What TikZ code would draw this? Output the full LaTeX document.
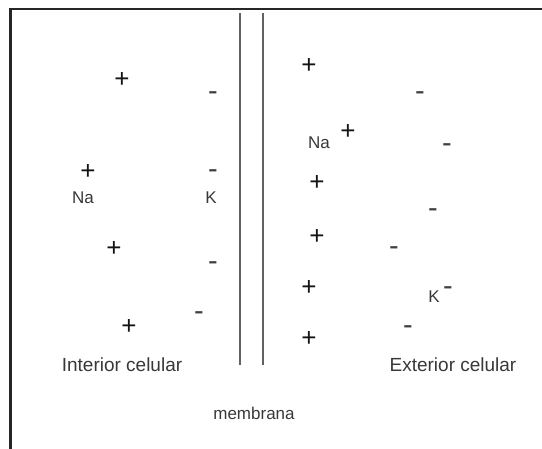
\documentclass[tikz,border=0pt]{standalone}
\usepackage{fontspec}
\setmainfont{Liberation Sans}
\begin{document}
\begin{tikzpicture}[x=1pt,y=-1pt,
  lbl/.style={font=\fontsize{19}{19}\selectfont, text=black!78, inner sep=0pt},
  ionlbl/.style={font=\fontsize{17}{17}\selectfont, text=black!78, inner sep=0pt},
  memlbl/.style={font=\fontsize{17}{17}\selectfont, text=black!78, inner sep=0pt},
  plussign/.style={font=\fontsize{26}{26}\selectfont, text=black!92, inner sep=0pt, yshift=-1.5pt},
  minussign/.style={font=\fontsize{29}{29}\selectfont, text=black!75, inner sep=0pt, yshift=-3.5pt},
  framepen/.style={line width=2.6pt, black!85},
  membpen/.style={line width=2.2pt, black!62}]
\useasboundingbox (0,0) rectangle (542,449);
% frame
\coordinate (fbl) at (10.5,449);
\coordinate (ftl) at (10.5,9);
\coordinate (ftr) at (542,9);
\draw[framepen] (fbl) -- (ftl) -- (ftr);
% membrane
\coordinate (m1t) at (239.6,13);
\coordinate (m1b) at (239.6,365);
\coordinate (m2t) at (262.8,13);
\coordinate (m2b) at (262.8,365);
\draw[membpen] (m1t) -- (m1b);
\draw[membpen] (m2t) -- (m2b);
% interior
\node[plussign] (ip1) at (122,78) {+};
\node[minussign] (in1) at (213,93) {-};
\node[plussign] (ip2) at (88,170) {+};
\node[minussign] (in2) at (213,171) {-};
\node[ionlbl] (na1) at (83,198) {Na};
\node[ionlbl] (k1) at (211,198) {K};
\node[plussign] (ip3) at (114,247) {+};
\node[minussign] (in3) at (213,263) {-};
\node[minussign] (in4) at (199,313) {-};
\node[plussign] (ip4) at (129,325) {+};
\node[lbl] (int) at (122,365) {Interior celular};
% exterior
\node[plussign] (ep1) at (309,64) {+};
\node[minussign] (en1) at (420,93) {-};
\node[ionlbl] (na2) at (319,143) {Na};
\node[plussign] (ep2) at (348,130) {+};
\node[minussign] (en2) at (447,145) {-};
\node[plussign] (ep3) at (317,181) {+};
\node[minussign] (en3) at (433,210) {-};
\node[plussign] (ep4) at (317,235) {+};
\node[minussign] (en4) at (394,248) {-};
\node[plussign] (ep5) at (309,286) {+};
\node[ionlbl] (k2) at (434,297) {K};
\node[minussign] (k2s) at (448,288) {-};
\node[minussign] (en5) at (408,327) {-};
\node[plussign] (ep6) at (309,337) {+};
\node[lbl] (ext) at (453,365) {Exterior celular};
\node[memlbl] (mem) at (254,413) {membrana};
\end{tikzpicture}
\end{document}
